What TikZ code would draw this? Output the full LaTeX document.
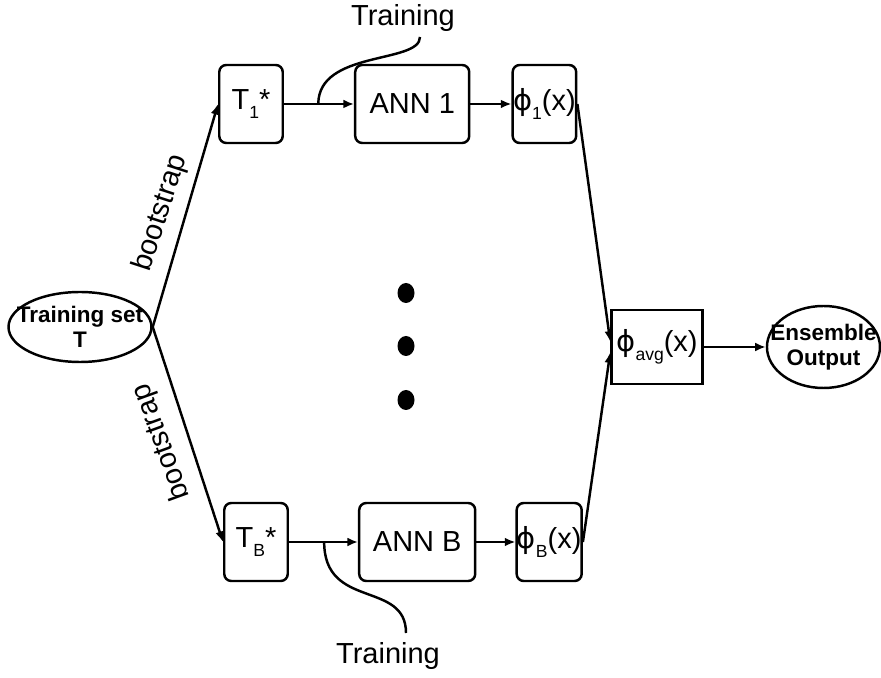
\documentclass[tikz,border=0pt]{standalone}
\usepackage{fontspec}
\setmainfont{Liberation Sans}
\newfontfamily\phifont{DejaVu Sans}
\usetikzlibrary{arrows.meta, shapes.geometric, positioning}
\newcommand{\lowsub}[1]{\raisebox{-0.55ex}{\fontsize{10}{10}\selectfont #1}}
\newcommand{\phisym}{{\phifont ϕ}}

\begin{document}
\begin{tikzpicture}[>={Latex[length=6pt,width=5pt]}, line width=1.4pt,
  box/.style={draw, rounded corners=4pt, minimum width=1.27cm,
              minimum height=1.56cm, inner xsep=0pt, inner ysep=1pt,
              font=\fontsize{16.5}{18}\selectfont},
  oval/.style={draw, ellipse, inner sep=0pt},
  ovaltext/.style={font=\fontsize{12.8}{14}\selectfont\bfseries, align=center},
  lbl/.style={font=\fontsize{16.5}{18}\selectfont, inner sep=1pt},
  dot/.style={ellipse, fill, inner sep=0pt, minimum width=0.34cm, minimum height=0.40cm}]

  \useasboundingbox (0,0) rectangle (17.62,13.54);

  % Training set
  \node[oval, minimum width=2.86cm, minimum height=1.40cm,
        label={[ovaltext]center:Training set\\T}] (trainset) at (1.60,7.00) {};

  % first branch
  \node[box] (t1) at (5.02,11.46) {T\lowsub{1}*};
  \node[box, minimum width=2.28cm, right=1.40cm of t1] (ann1) {ANN 1};
  \node[box, right=0.82cm of ann1] (phi1) {\phisym\lowsub{1}(x)};

  \draw[->] (t1) -- coordinate[pos=0.49] (tr1) (ann1);
  \draw[->] (ann1) -- (phi1);

  \node[lbl] (trtop) at (8.06,13.18) {Training};
  \coordinate (trtopend) at (8.40,12.80);
  \draw (tr1) .. controls +(0,1.08) and +(0,-0.54) .. (trtopend);

  % last branch
  \node[box] (tB) at (5.12,2.70) {T\lowsub{B}*};
  \node[box, minimum width=2.32cm, right=1.38cm of tB] (annB) {ANN B};
  \node[box, minimum width=1.30cm, right=0.78cm of annB] (phiB) {\phisym\lowsub{B}(x)};

  \draw[->] (tB) -- coordinate[pos=0.51] (trB) (annB);
  \draw[->] (annB) -- (phiB);

  \node[lbl] (trbot) at (7.76,0.42) {Training};
  \coordinate (trbotend) at (8.12,0.88);
  \draw (trB) .. controls +(0,-1.36) and +(0,1.06) .. (trbotend);

  % bootstrap
  \draw[->] (trainset.east) -- (t1.west);
  \draw[->] (trainset.east) -- (tB.west);
  \node[lbl, rotate=72] (boot1) at (3.22,9.28) {bootstrap};
  \node[lbl, rotate=110] (bootB) at (3.24,4.70) {bootstrap};

  % dots
  \foreach \y [count=\i] in {7.68,6.62,5.54}
    \node[dot] (dot\i) at (8.12,\y) {};

  % averaging
  \node[draw, minimum width=1.82cm, minimum height=1.48cm, inner sep=1pt,
        font=\fontsize{16.5}{18}\selectfont] (avg) at (13.14,6.60)
        {\phisym\lowsub{avg}(x)};
  \node[oval, minimum width=2.26cm, minimum height=1.64cm,
        label={[ovaltext]center:Ensemble\\Output}, right=1.24cm of avg] (ens) {};

  \draw[->] (phi1.east) -- ([yshift=3pt]avg.west);
  \draw[->] (phiB.east) -- ([yshift=-3pt]avg.west);
  \draw[->] (avg) -- (ens);

\end{tikzpicture}
\end{document}
